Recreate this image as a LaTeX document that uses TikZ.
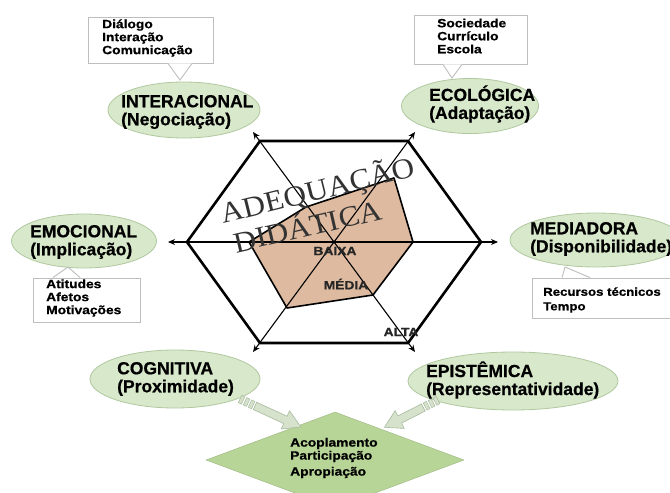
\documentclass[tikz,border=0pt]{standalone}
\usepackage{fontspec}
\setmainfont{Liberation Sans}[BoldFont={Liberation Sans Bold}]
\newfontfamily\facetsans{Liberation Sans Bold}[FakeBold=0.6]
\newfontfamily\widesans{Liberation Sans Bold}[FakeStretch=1.15,FakeBold=0.8]
\newfontfamily\titleserif{Liberation Serif}[FakeStretch=1.08]
\usetikzlibrary{shapes.geometric,arrows.meta,calc}

\definecolor{leaf}{RGB}{216,232,202}
\definecolor{leafedge}{RGB}{176,200,160}
\definecolor{lozenge}{RGB}{184,213,152}
\definecolor{tan}{RGB}{222,186,160}
\definecolor{boxedge}{RGB}{190,190,190}
\definecolor{shaft}{RGB}{214,226,204}
\definecolor{shaftedge}{RGB}{168,186,158}

\tikzset{
  facet/.style={ellipse, draw=leafedge, line width=0.8pt, fill=leaf, inner sep=0pt},
  facettext/.style={anchor=west, align=left, inner sep=0pt,
    font=\facetsans\fontsize{17.5}{18}\selectfont},
  notebox/.style={draw=boxedge, line width=0.9pt, fill=white, inner sep=0pt},
  notetext/.style={anchor=west, align=left, inner sep=0pt,
    font=\widesans\fontsize{12}{13}\selectfont},
  axis/.style={line width=1.1pt, -{Stealth[length=7pt,width=6pt]}},
  rim/.style={line width=2.6pt, line join=miter},
  level/.style={inner sep=0pt, font=\widesans\fontsize{12}{12}\selectfont, text=black!85},
  bigword/.style={inner sep=0pt, font=\titleserif\fontsize{29}{29}\selectfont, text=black!80}
}

% striped block arrow: #1 start, #2 angle, #3 length
\newcommand\stripedarrow[3]{%
  \begin{scope}[shift={#1}, rotate=#2]
    \foreach \s in {0,5.5,11}{
      \filldraw[fill=shaft, draw=shaftedge, line width=0.5pt] (\s,-4) rectangle ++(3.5,8);
    }
    \filldraw[fill=shaft, draw=shaftedge, line width=0.6pt]
      (16.5,-4) -- (#3-17,-4) -- (#3-17,-10) -- (#3,0) -- (#3-17,10) -- (#3-17,4) -- (16.5,4) -- cycle;
  \end{scope}}

\begin{document}
\begin{tikzpicture}[x=1pt, y=-1pt]
\useasboundingbox (0,0) rectangle (670,493);
\clip (0,0) rectangle (670,493);
\fill[white] (0,0) rectangle (670,493);

% --- hexagon geometry ---
\coordinate (c) at (334,242);
\coordinate (hL) at (187,242);
\coordinate (hR) at (481,242);
\coordinate (hTL) at (260,141);
\coordinate (hTR) at (408,141);
\coordinate (hBL) at (260,343);
\coordinate (hBR) at (408,343);
\coordinate (aL) at (168,242);
\coordinate (aR) at (498,242);
\coordinate (aTL) at (253,132);
\coordinate (aTR) at (415,132);
\coordinate (aBL) at (253,352);
\coordinate (aBR) at (415,352);

% profile polygon
\coordinate (pL) at (249,242);
\coordinate (pTL) at (306,207);
\coordinate (pTR) at (394,178);
\coordinate (pR) at (413,242);
\coordinate (pBR) at (373,295);
\coordinate (pBL) at (287,308);
\fill[tan] (pL) -- (pTL) -- (pTR) -- (pR) -- (pBR) -- (pBL) -- cycle;

% axes
\draw[axis] (c) -- (aL);
\draw[axis] (c) -- (aR);
\draw[axis] (c) -- (aTL);
\draw[axis] (c) -- (aTR);
\draw[axis] (c) -- (aBL);
\draw[axis] (c) -- (aBR);

% outer hexagon
\draw[rim] (hL) -- (hTL) -- (hTR) -- (hR) -- (hBR) -- (hBL) -- cycle;

% polygon outline
\draw[line width=1.6pt, line join=round] (pL) -- (pTL) -- (pTR) -- (pR) -- (pBR) -- (pBL) -- cycle;

% title words
\node[bigword, rotate=14] (adeq) at (318,191) {ADEQUAÇÃO};
\node[bigword, rotate=13] (dida) at (307,224) {DIDÁTICA};

% level labels
\node[level] (baixa) at (335,251) {BAIXA};
\node[level] (media) at (346,284) {MÉDIA};
\node[level] (alta) at (401,332) {ALTA};

% --- facet ellipses ---
\node[facet, minimum width=152, minimum height=56] (inter) at (184,110) {};
\node[facettext] (intert) at (121,112) {INTERACIONAL\\(Negociação)};

\node[facet, minimum width=137, minimum height=55] (eco) at (470,106) {};
\node[facettext] (ecot) at (429,104) {ECOLÓGICA\\(Adaptação)};

\node[facet, minimum width=145, minimum height=54] (emo) at (84,241) {};
\node[facettext] (emot) at (30,242) {EMOCIONAL\\(Implicação)};

\node[facet, minimum width=172, minimum height=54] (med) at (596,240) {};
\node[facettext] (medt) at (530,239) {MEDIADORA\\(Disponibilidade)};

\node[facet, minimum width=170, minimum height=58] (cog) at (175,379) {};
\node[facettext] (cogt) at (117,379) {COGNITIVA\\(Proximidade)};

\node[facet, minimum width=210, minimum height=58] (epi) at (513,381) {};
\node[facettext] (epit) at (426,380) {EPISTÊMICA\\(Representatividade)};

% --- callout notes ---
\node[notebox, minimum width=125, minimum height=46] (dlg) at (150.5,40) {};
\coordinate (dlgtip) at (180,80);
\fill[white] ([xshift=17.5pt]dlg.south) -- (dlgtip) -- ([xshift=41.5pt]dlg.south) -- cycle;
\draw[boxedge, line width=0.9pt] ([xshift=17.5pt]dlg.south) -- (dlgtip) -- ([xshift=41.5pt]dlg.south);
\node[notetext] (dlgt) at (102,38) {Diálogo\\Interação\\Comunicação};

\node[notebox, minimum width=113, minimum height=49] (soc) at (470.5,39.5) {};
\coordinate (soctip) at (452,78);
\fill[white] ([xshift=-27.5pt]soc.south) -- (soctip) -- ([xshift=-8.5pt]soc.south) -- cycle;
\draw[boxedge, line width=0.9pt] ([xshift=-27.5pt]soc.south) -- (soctip) -- ([xshift=-8.5pt]soc.south);
\node[notetext] (soct) at (437,36) {Sociedade\\Currículo\\Escola};

\node[notebox, minimum width=107, minimum height=44] (ati) at (86.5,300) {};
\coordinate (atitip) at (68,267);
\fill[white] ([xshift=-33.5pt]ati.north) -- (atitip) -- ([xshift=-6.5pt]ati.north) -- cycle;
\draw[boxedge, line width=0.9pt] ([xshift=-33.5pt]ati.north) -- (atitip) -- ([xshift=-6.5pt]ati.north);
\node[notetext] (atit) at (46,298) {Atitudes\\Afetos\\Motivações};

\node[notebox, minimum width=150, minimum height=40] (rec) at (607,298) {};
\coordinate (rectip) at (565,267);
\fill[white] ([xshift=-45pt]rec.north) -- (rectip) -- ([xshift=-17pt]rec.north) -- cycle;
\draw[boxedge, line width=0.9pt] ([xshift=-45pt]rec.north) -- (rectip) -- ([xshift=-17pt]rec.north);
\node[notetext, font=\widesans\fontsize{11.5}{14.5}\selectfont] (rect) at (543,300) {Recursos técnicos\\Tempo};

% --- outcome lozenge ---
\node[diamond, fill=lozenge, draw=lozenge!85!black, line width=0.4pt, inner sep=0pt,
      minimum width=258, minimum height=96] (dia) at (335,460) {};
\node[notetext] (diat) at (290,458) {Acoplamento\\Participação\\[3pt]Apropiação};

% striped arrows into the lozenge
\stripedarrow{(240,399)}{-24.7}{67}
\stripedarrow{(438,400)}{-153}{60}

\end{tikzpicture}
\end{document}
